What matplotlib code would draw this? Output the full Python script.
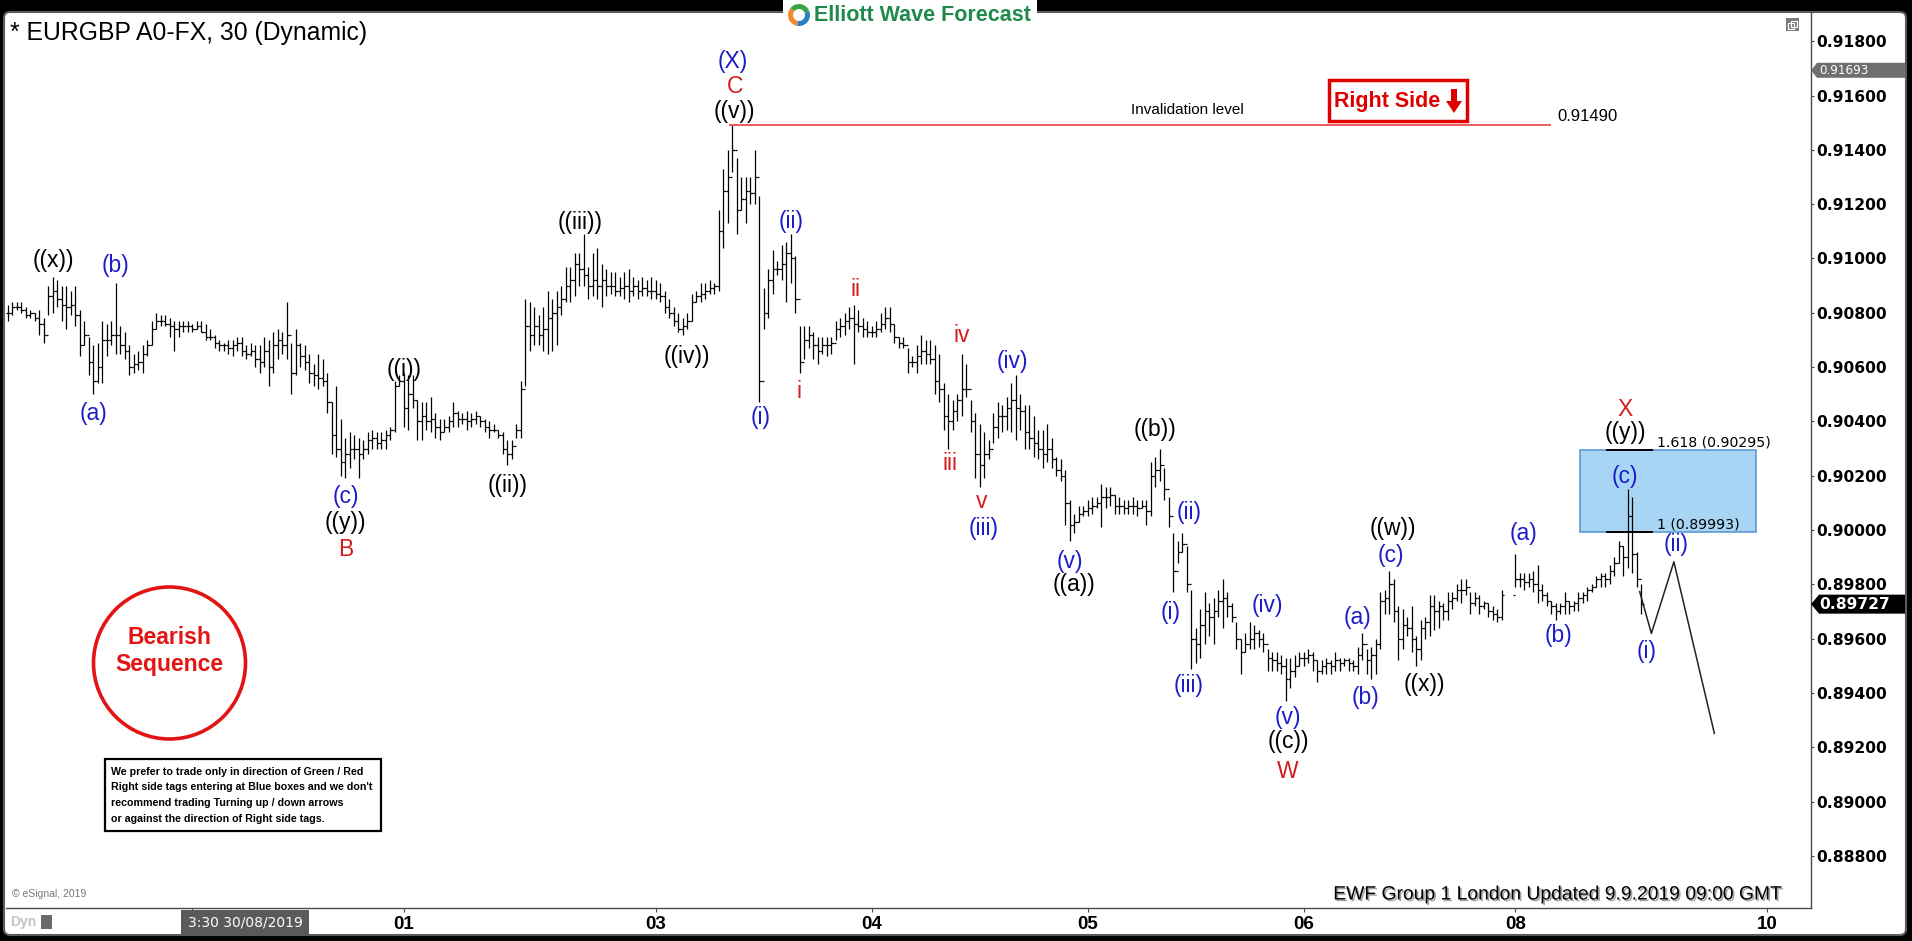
import matplotlib
matplotlib.use("Agg")
import matplotlib.pyplot as plt
from matplotlib.patches import Rectangle, Circle, FancyBboxPatch, Polygon, Wedge
import matplotlib.patheffects as pe

# ---------------------------------------------------------------- data
BASE = 0.90000   # prices below are stored as pips relative to BASE
PIP = 0.0001

# 30-minute bars, (high, low, close) in pips vs 0.90000, one list per session
bars_aug29_30 = [(83,77,80),(84,79,82),(84,81,82),(84,80,81),(82,78,79),(81,78,80),(80,77,78),(81,72,76),(78,69,72),(90,79,86),
 (93,80,88),(92,82,85),(90,77,83),(90,74,82),(88,79,83),(90,75,79),(81,64,68),(77,68,72),(71,57,62),(68,50,55),
 (69,54,60),(77,54,70),(76,64,70),(77,68,72),(91,65,72),(75,65,68),(73,63,66),(68,57,60),(65,58,61),(66,59,62),
 (68,58,65),(70,64,68),(77,68,74),(80,74,77),(79,75,77),(79,75,76),(78,71,75),(77,66,74),(77,71,75),(77,73,75),
 (77,73,75),(76,73,74),(77,74,75),(77,73,73),(76,70,71),(74,70,71),(72,67,69),(70,66,68),(69,66,68),(70,65,67),
 (70,64,68),(71,66,69),(71,64,66),(68,63,65),(69,64,66),(68,60,63),(68,58,62),(71,60,66),(70,53,60),(73,58,68),
 (74,63,70),(73,65,68),(84,63,72),(69,50,58),(74,57,68),(69,60,64),(68,59,62),(65,54,58),(61,53,57),(65,52,56),
 (63,53,55),(58,43,47),(47,28,35),(53,27,30),(41,20,25),(34,19,28),(36,23,30),(35,26,30),(34,19,28),(33,26,30),
 (36,28,33),(37,30,34),(36,30,32),(36,30,33),(37,30,35),(38,33,37),(55,36,53),(57,53,55)]
bars_sep01_02 = [(58,38,45),(57,37,50),(57,45,48),(48,33,40),(47,33,42),(47,37,40),(49,36,41),(43,34,38),(41,33,36),(41,36,38),
 (42,36,40),(47,38,43),(44,38,41),(43,39,41),(44,37,40),(43,38,41),(44,39,42),(42,38,40),(41,36,38),(40,34,37),
 (39,36,37),(37,34,35),(36,28,30),(33,24,28),(33,26,31),(39,34,37),(55,34,52),(85,53,75),(84,66,72),(82,68,75),
 (79,68,72),(82,66,74),(88,65,78),(85,66,80),(88,68,82),(90,79,85),(97,84,90),(97,84,92),(102,86,98),(102,90,96),
 (109,90,94),(97,85,90),(102,86,92),(104,85,90),(98,82,92),(96,86,90),(95,87,90),(95,86,88),(93,86,89),(95,85,90),
 (96,84,88),(93,86,90),(92,85,88),(93,86,89),(92,86,88),(93,85,88)]
bars_sep03 = [(92,85,87),(91,84,86),(88,80,82),(85,78,80),(82,75,77),(80,73,74),(78,72,75),(80,74,77),(87,77,84),(88,84,86),
 (91,84,87),(91,85,88),(92,87,89),(91,87,90),(118,88,110),(133,104,125),(140,113,130),(149,132,140),(137,109,118),(130,118,122),
 (130,113,125),(130,120,124),(140,120,130),(123,47,55),(89,74,80),(96,78,92),(103,87,96),(99,94,96),(105,92,98),(106,84,102),
 (109,91,100),(101,80,85),(75,58,62),(75,63,70),(75,67,72),(73,63,68),(71,61,66),(71,65,68),(71,64,68),(71,65,69),
 (77,70,74),(78,71,75),(80,72,77),(82,74,78),(83,61,76),(81,73,75),(78,71,74),(77,71,73)]
bars_sep04 = [(75,71,73),(77,71,74),(80,73,76),(82,74,78),(82,73,76),(76,69,71),(71,67,69),(71,67,68),(67,58,62),(64,60,62),
 (68,58,64),(72,61,66),(70,61,65),(70,61,63),(68,50,55),(65,47,52),(54,37,42),(50,30,40),(48,37,44),(50,40,48),
 (65,42,52),(61,49,52),(48,36,40),(43,19,28),(39,16,24),(36,19,28),(33,26,30),(43,32,38),(47,34,42),(46,36,42),
 (49,37,45),(54,36,48),(57,33,45),(50,37,44),(46,30,36),(46,30,34),(42,27,32),(37,26,30),(37,23,28),(39,25,30),
 (34,23,26),(27,20,22),(26,18,20),(22,2,10),(11,-4,2),(6,-1,3),(9,3,6),(9,5,7)]
bars_sep05 = [(11,5,8),(12,6,9),(12,8,10),(17,1,12),(16,8,12),(16,9,13),(13,6,9),(12,6,9),(11,6,8),(11,6,9),
 (12,6,9),(11,5,8),(11,8,9),(11,2,7),(25,5,20),(27,16,22),(30,18,24),(23,11,15),(12,1,5),(-1,-23,-15),
 (-4,-12,-8),(-1,-8,-5),(-6,-23,-20),(-22,-51,-40),(-36,-49,-42),(-29,-47,-35),(-23,-42,-30),(-27,-39,-32),(-25,-42,-30),(-22,-32,-26),
 (-18,-36,-25),(-23,-32,-28),(-27,-34,-32),(-34,-44,-40),(-40,-53,-45),(-38,-45,-42),(-34,-44,-40),(-35,-44,-38),(-37,-43,-40),(-38,-45,-42),
 (-44,-52,-47),(-45,-52,-48),(-45,-52,-49),(-46,-53,-50),(-47,-63,-55),(-47,-58,-52),(-46,-54,-50),(-45,-50,-47)]
bars_sep06 = [(-45,-50,-47),(-44,-49,-46),(-45,-52,-48),(-48,-56,-52),(-48,-53,-50),(-47,-53,-49),(-48,-53,-50),(-45,-52,-48),(-47,-52,-49),(-47,-50,-48),
 (-47,-52,-49),(-48,-52,-50),(-43,-53,-46),(-38,-48,-42),(-44,-53,-48),(-43,-55,-46),(-40,-53,-42),(-23,-44,-26),(-22,-31,-25),(-15,-31,-20),
 (-18,-34,-30),(-28,-48,-40),(-29,-44,-35),(-32,-39,-36),(-28,-45,-40),(-39,-50,-44),(-33,-48,-36),(-32,-40,-34),(-24,-39,-28),(-24,-37,-30),
 (-26,-36,-28),(-27,-33,-30),(-23,-33,-26),(-23,-29,-25),(-20,-26,-22),(-18,-27,-22),(-18,-24,-21),(-23,-31,-27),(-23,-28,-25),(-24,-31,-28),
 (-26,-29,-27),(-27,-32,-30),(-28,-33,-31),(-29,-34,-32),(-22,-33,-24)]
bars_sep08_09 = [(-9,-21,-18),(-16,-21,-18),(-16,-22,-19),(-16,-21,-18),(-15,-23,-20),(-13,-27,-22),(-20,-26,-24),(-23,-28,-26),(-26,-31,-28),(-27,-33,-30),
 (-27,-31,-28),(-23,-31,-26),(-26,-31,-28),(-26,-30,-27),(-23,-30,-25),(-23,-27,-24),(-21,-26,-22),(-20,-23,-21),(-17,-21,-18),(-16,-21,-17),
 (-16,-21,-18),(-13,-20,-15),(-10,-17,-12),(-4,-12,-6),(-6,-17,-10),(15,-14,5),(12,-16,-9),(-8,-21,-18),(-20,-31,-27.3)]

sessions = [bars_aug29_30, bars_sep01_02, bars_sep03, bars_sep04, bars_sep05, bars_sep06, bars_sep08_09]
missing_bars_before = [0, 0, 0, 0, 0, 0, 2]      # weekend gap (bars)

# time axis (bar numbers)
day_tick_pos = [41, 88, 144, 192, 240, 288, 335, 391]
day_tick_labels = ["", "01", "03", "04", "05", "06", "08", "10"]
cursor_label = "3:30 30/08/2019"

price_ticks = [0.888, 0.890, 0.892, 0.894, 0.896, 0.898, 0.900, 0.902,
               0.904, 0.906, 0.908, 0.910, 0.912, 0.914, 0.916, 0.918]

# projected path (bar number, price)
proj_bar = [362.6, 365.2, 370.2, 379.2]
proj_price = [0.89773, 0.89619, 0.89883, 0.89251]

invalidation_price = 0.91490
invalidation_bars = (160.2, 342.9)
fib_labels = ["1.618", "1"]
fib_prices = [0.90295, 0.89993]
fib_box_bars = (349.3, 388.4)
fib_line_bars = (355.2, 365.5)
last_price = 0.89727
marker_price = 0.91693

# wave labels: text, colour, bar, side, offset(px), x-shift(bars)
wave_labels = [
 ("((x))", "k", 10, "hi", 17, 0), ("(b)", "b", 24, "hi", 17, 0), ("(a)", "b", 19, "lo", 19, 0),
 ("(c)", "b", 75, "lo", 18, 0), ("((y))", "k", 75, "lo", 44, 0), ("B", "r", 75, "lo", 71, 0),
 ("((i))", "k", 88, "hi", 3, 0), ("((ii))", "k", 111, "lo", 21, 0), ("((iii))", "k", 128, "hi", 12, -0.9),
 ("((iv))", "k", 150, "lo", 22, 0.8), ("((v))", "k", 161, "hi", 14, 0.5), ("C", "r", 161, "hi", 39, 0.5),
 ("(X)", "b", 161, "hi", 64, 0), ("(i)", "b", 167, "lo", 15, 0.3), ("(ii)", "b", 174, "hi", 13, 0),
 ("i", "r", 176, "lo", 19, -0.3), ("ii", "r", 188, "hi", 15, 0.4), ("iii", "r", 209, "lo", 15, 0.3),
 ("iv", "r", 212, "hi", 18, 0), ("v", "r", 216, "lo", 15, 0.4), ("(iii)", "b", 216, "lo", 42, 0.7),
 ("(iv)", "b", 224, "hi", 14, -0.7), ("(v)", "b", 236, "lo", 21, 0), ("((a))", "k", 236, "lo", 44, 0.9),
 ("((b))", "k", 256, "hi", 19, -1.1), ("(i)", "b", 259, "lo", 20, -0.6), ("(ii)", "b", 261, "hi", 20, 1.4),
 ("(iii)", "b", 263, "lo", 17, -0.6), ("(iv)", "b", 277, "hi", 20, 2.8), ("(v)", "b", 284, "lo", 16, 0.4),
 ("((c))", "k", 284, "lo", 40, 0.6), ("W", "r", 284, "lo", 70, 0.4), ("(a)", "b", 301, "hi", 16, -1.2),
 ("(b)", "b", 303, "lo", 18, -1.3), ("(c)", "b", 307, "hi", 15, 0.4), ("((w))", "k", 307, "hi", 42, 0.7),
 ("((x))", "k", 313, "lo", 19, 1.7), ("(a)", "b", 335, "hi", 21, 1.7), ("(b)", "b", 344, "lo", 16, 0.5),
 ("(c)", "b", 360, "hi", 13, -0.6), ("((y))", "k", 360, "hi", 57, -0.6), ("X", "r", 360, "hi", 80, -0.6),
]
proj_labels = [("(i)", 1, "lo", 18, -1.1), ("(ii)", 2, "hi", 17, 0.6)]

# ---------------------------------------------------------------- build series
pos, hi, lo, cl = [], [], [], []
p = 0
for seg, gap in zip(sessions, missing_bars_before):
    p += gap
    for h, l, c in seg:
        pos.append(p); hi.append(BASE + h * PIP); lo.append(BASE + l * PIP); cl.append(BASE + c * PIP)
        p += 1
op = [cl[0]] + cl[:-1]
bar_hi = dict(zip(pos, hi)); bar_lo = dict(zip(pos, lo))

# ---------------------------------------------------------------- figure
W, H = 1912, 941
fig = plt.figure(figsize=(W / 100, H / 100), dpi=100, facecolor="black")

def rect(x0, y0, x1, y1):
    return [x0 / W, 1 - y1 / H, (x1 - x0) / W, (y1 - y0) / H]

SANS = ["Liberation Sans", "DejaVu Sans"]
COL = {"k": "#000000", "b": "#1c1cc8", "r": "#d21e1e"}

bg = fig.add_axes([0, 0, 1, 1], zorder=0)
bg.set_xlim(0, W); bg.set_ylim(H, 0); bg.axis("off")
bg.add_patch(Rectangle((0, 0), W, H, fc="black", ec="none"))
bg.add_patch(FancyBboxPatch((4, 12), 1902, 923, boxstyle="round,pad=0,rounding_size=6",
                            fc="white", ec="#5c5c5c", lw=1.5))

ax = fig.add_axes(rect(6, 13, 1811, 908), zorder=1)
ax.set_facecolor("none")
ax.set_xlim(-0.44, 400.67)
ax.set_ylim(0.88608, 0.91904)

# OHLC bars
ax.vlines(pos, lo, hi, color="black", lw=0.9)
ax.hlines(op, [x - 0.45 for x in pos], pos, color="black", lw=0.9)
ax.hlines(cl, pos, [x + 0.45 for x in pos], color="black", lw=0.9)

# projection path
ax.plot(proj_bar, proj_price, color="#222222", lw=1.1)

# invalidation level
ax.hlines(invalidation_price, *invalidation_bars, color="#e5413f", lw=1.2)
ax.annotate("Invalidation level", xy=(262, invalidation_price), xytext=(0, 11), textcoords="offset points",
            ha="center", va="center", fontsize=11, family=SANS)
ax.annotate(f"{invalidation_price:.5f}", xy=(344.2, invalidation_price), xytext=(0, 6.5),
            textcoords="offset points", ha="left", va="center", fontsize=12, family=SANS)

# fib box
ax.add_patch(Rectangle((fib_box_bars[0], fib_prices[1]), fib_box_bars[1] - fib_box_bars[0],
                       fib_prices[0] - fib_prices[1], fc="#a9d5f5", ec="#5b9bd5", lw=1.2, zorder=0.5))
for lab, pr in zip(fib_labels, fib_prices):
    ax.hlines(pr, *fib_line_bars, color="black", lw=1.4, zorder=3)
    ax.annotate(f"{lab} ({pr:.5f})", xy=(fib_line_bars[1] + 0.9, pr), xytext=(0, 0.5), textcoords="offset points",
                ha="left", va="bottom", fontsize=10.2, family="DejaVu Sans")

# wave labels
PT = 72 / 100
for txt, c, b, side, off, dx in wave_labels:
    y = bar_hi[b] if side == "hi" else bar_lo[b]
    dy = off if side == "hi" else -off
    ax.annotate(txt, xy=(b + dx, y), xytext=(0, dy * PT), textcoords="offset points",
                ha="center", va="center", fontsize=16.5, color=COL[c], family=SANS, zorder=4)
for txt, k, side, off, dx in proj_labels:
    dy = off if side == "hi" else -off
    ax.annotate(txt, xy=(proj_bar[k] + dx, proj_price[k]), xytext=(0, dy * PT), textcoords="offset points",
                ha="center", va="center", fontsize=16.5, color=COL["b"], family=SANS, zorder=4)

# axes styling
for s in ("left", "top"):
    ax.spines[s].set_visible(False)
for s in ("right", "bottom"):
    ax.spines[s].set_color("#4a4a4a"); ax.spines[s].set_linewidth(1.0)
ax.yaxis.tick_right()
ax.set_yticks(price_ticks)
ax.set_yticklabels([f"{v:.5f}" for v in price_ticks])
ax.tick_params(axis="y", length=2.5, width=0.8, color="#4a4a4a", pad=1.5)
for t in ax.get_yticklabels():
    t.set_fontfamily("DejaVu Sans"); t.set_fontweight("bold"); t.set_fontsize(11.2)
ax.set_xticks(day_tick_pos)
ax.set_xticklabels(day_tick_labels)
ax.tick_params(axis="x", length=3, width=0.8, color="#4a4a4a", pad=2.5)
for t in ax.get_xticklabels():
    t.set_fontfamily(SANS); t.set_fontweight("bold"); t.set_fontsize(13.5)

# ---------------------------------------------------------------- overlay (pixel coords)
ov = fig.add_axes([0, 0, 1, 1], zorder=3)
ov.set_xlim(0, W); ov.set_ylim(H, 0); ov.axis("off")
ov.patch.set_alpha(0)

def ypix(price):
    return H - ax.transData.transform((0, price))[1]

# title + logo
ov.text(10, 33, "* EURGBP A0-FX, 30 (Dynamic)", fontsize=17.8, family=SANS, va="center", ha="left")
ov.add_patch(Rectangle((783, 0), 254, 28, fc="white", ec="none"))
for th1, th2, cc in ((100, 220, "#f0892a"), (-20, 100, "#2b7fc3"), (220, 340, "#3aa34a")):
    ov.add_patch(Wedge((799, 15), 11, th1, th2, width=5, fc=cc, ec="none"))
ov.text(814, 15, "Elliott Wave Forecast", fontsize=15.5, fontweight="bold", color="#1f8a4c",
        family=SANS, va="center", ha="left")

# Right Side tag
ov.add_patch(Rectangle((1329, 80), 138, 41, fc="white", ec="#e00000", lw=2.5))
ov.text(1334, 101, "Right Side", fontsize=15.5, fontweight="bold", color="#e00000", family=SANS,
        va="center", ha="left")
ov.add_patch(Polygon([(1451, 89), (1457, 89), (1457, 101), (1462, 101), (1454, 113), (1446, 101), (1451, 101)],
                     closed=True, fc="#e00000", ec="none"))

# Bearish sequence circle
ov.add_patch(Circle((169.5, 663), 76, fill=False, ec="#e21414", lw=2.6))
ov.text(169.5, 637, "Bearish", fontsize=16.5, fontweight="bold", color="#e21414", family=SANS,
        ha="center", va="center")
ov.text(169.5, 665, "Sequence", fontsize=16.5, fontweight="bold", color="#e21414", family=SANS,
        ha="center", va="center")

# disclaimer
ov.add_patch(Rectangle((105, 759), 276, 72, fc="white", ec="black", lw=1.6))
for k, line in enumerate(["We prefer to trade only in direction of Green / Red",
                          "Right side tags entering at Blue boxes and we don't",
                          "recommend trading Turning up / down arrows",
                          "or against the direction of Right side tags."]):
    ov.text(111, 772 + 15.5 * k, line, fontsize=7.7, fontweight="bold", family=SANS, va="center", ha="left")

# price flags on the right axis
ym = ypix(marker_price)
ov.add_patch(Polygon([(1811, ym), (1817, ym - 7.5), (1905, ym - 7.5), (1905, ym + 7.5), (1817, ym + 7.5)],
                     closed=True, fc="#6f6f6f", ec="none"))
ov.text(1819, ym, f"{marker_price:.5f}", fontsize=8.6, color="white", family="DejaVu Sans", va="center", ha="left")
yl = ypix(last_price)
ov.add_patch(Polygon([(1811, yl), (1819, yl - 9.5), (1905, yl - 9.5), (1905, yl + 9.5), (1819, yl + 9.5)],
                     closed=True, fc="black", ec="none"))
ov.text(1819, yl, f"{last_price:.5f}", fontsize=11.2, fontweight="bold", color="white", family="DejaVu Sans",
        va="center", ha="left")

# small window icon
ov.add_patch(Rectangle((1786, 18), 13, 13, fc="#7c7c7c", ec="none"))
ov.add_patch(Rectangle((1788.5, 23), 6, 6, fc="none", ec="white", lw=0.8))
ov.add_patch(Rectangle((1791, 20.5), 6, 6, fc="none", ec="white", lw=0.8))

# bottom texts
ov.text(12, 894, "\u00a9 eSignal, 2019", fontsize=7.5, color="#777777", family=SANS, va="center")
ov.text(1780, 895, "EWF Group 1 London Updated 9.9.2019 09:00 GMT", fontsize=13.9, family=SANS,
        ha="right", va="center", color="black",
        path_effects=[pe.withSimplePatchShadow(offset=(1.2, -1.2), shadow_rgbFace="#9a9a9a", alpha=0.9)])
ov.text(245, 923, cursor_label, fontsize=10, color="white", family="DejaVu Sans", ha="center", va="center",
        bbox=dict(boxstyle="square,pad=0.45", fc="#5a5a5a", ec="none"))
ov.text(10, 922, "Dyn", fontsize=10, color="#c4c4c4", family=SANS, fontweight="bold", va="center")
ov.add_patch(Rectangle((41, 915), 11, 14, fc="#6a6a6a", ec="none"))

fig.savefig("out.png", dpi=100, facecolor="black")
